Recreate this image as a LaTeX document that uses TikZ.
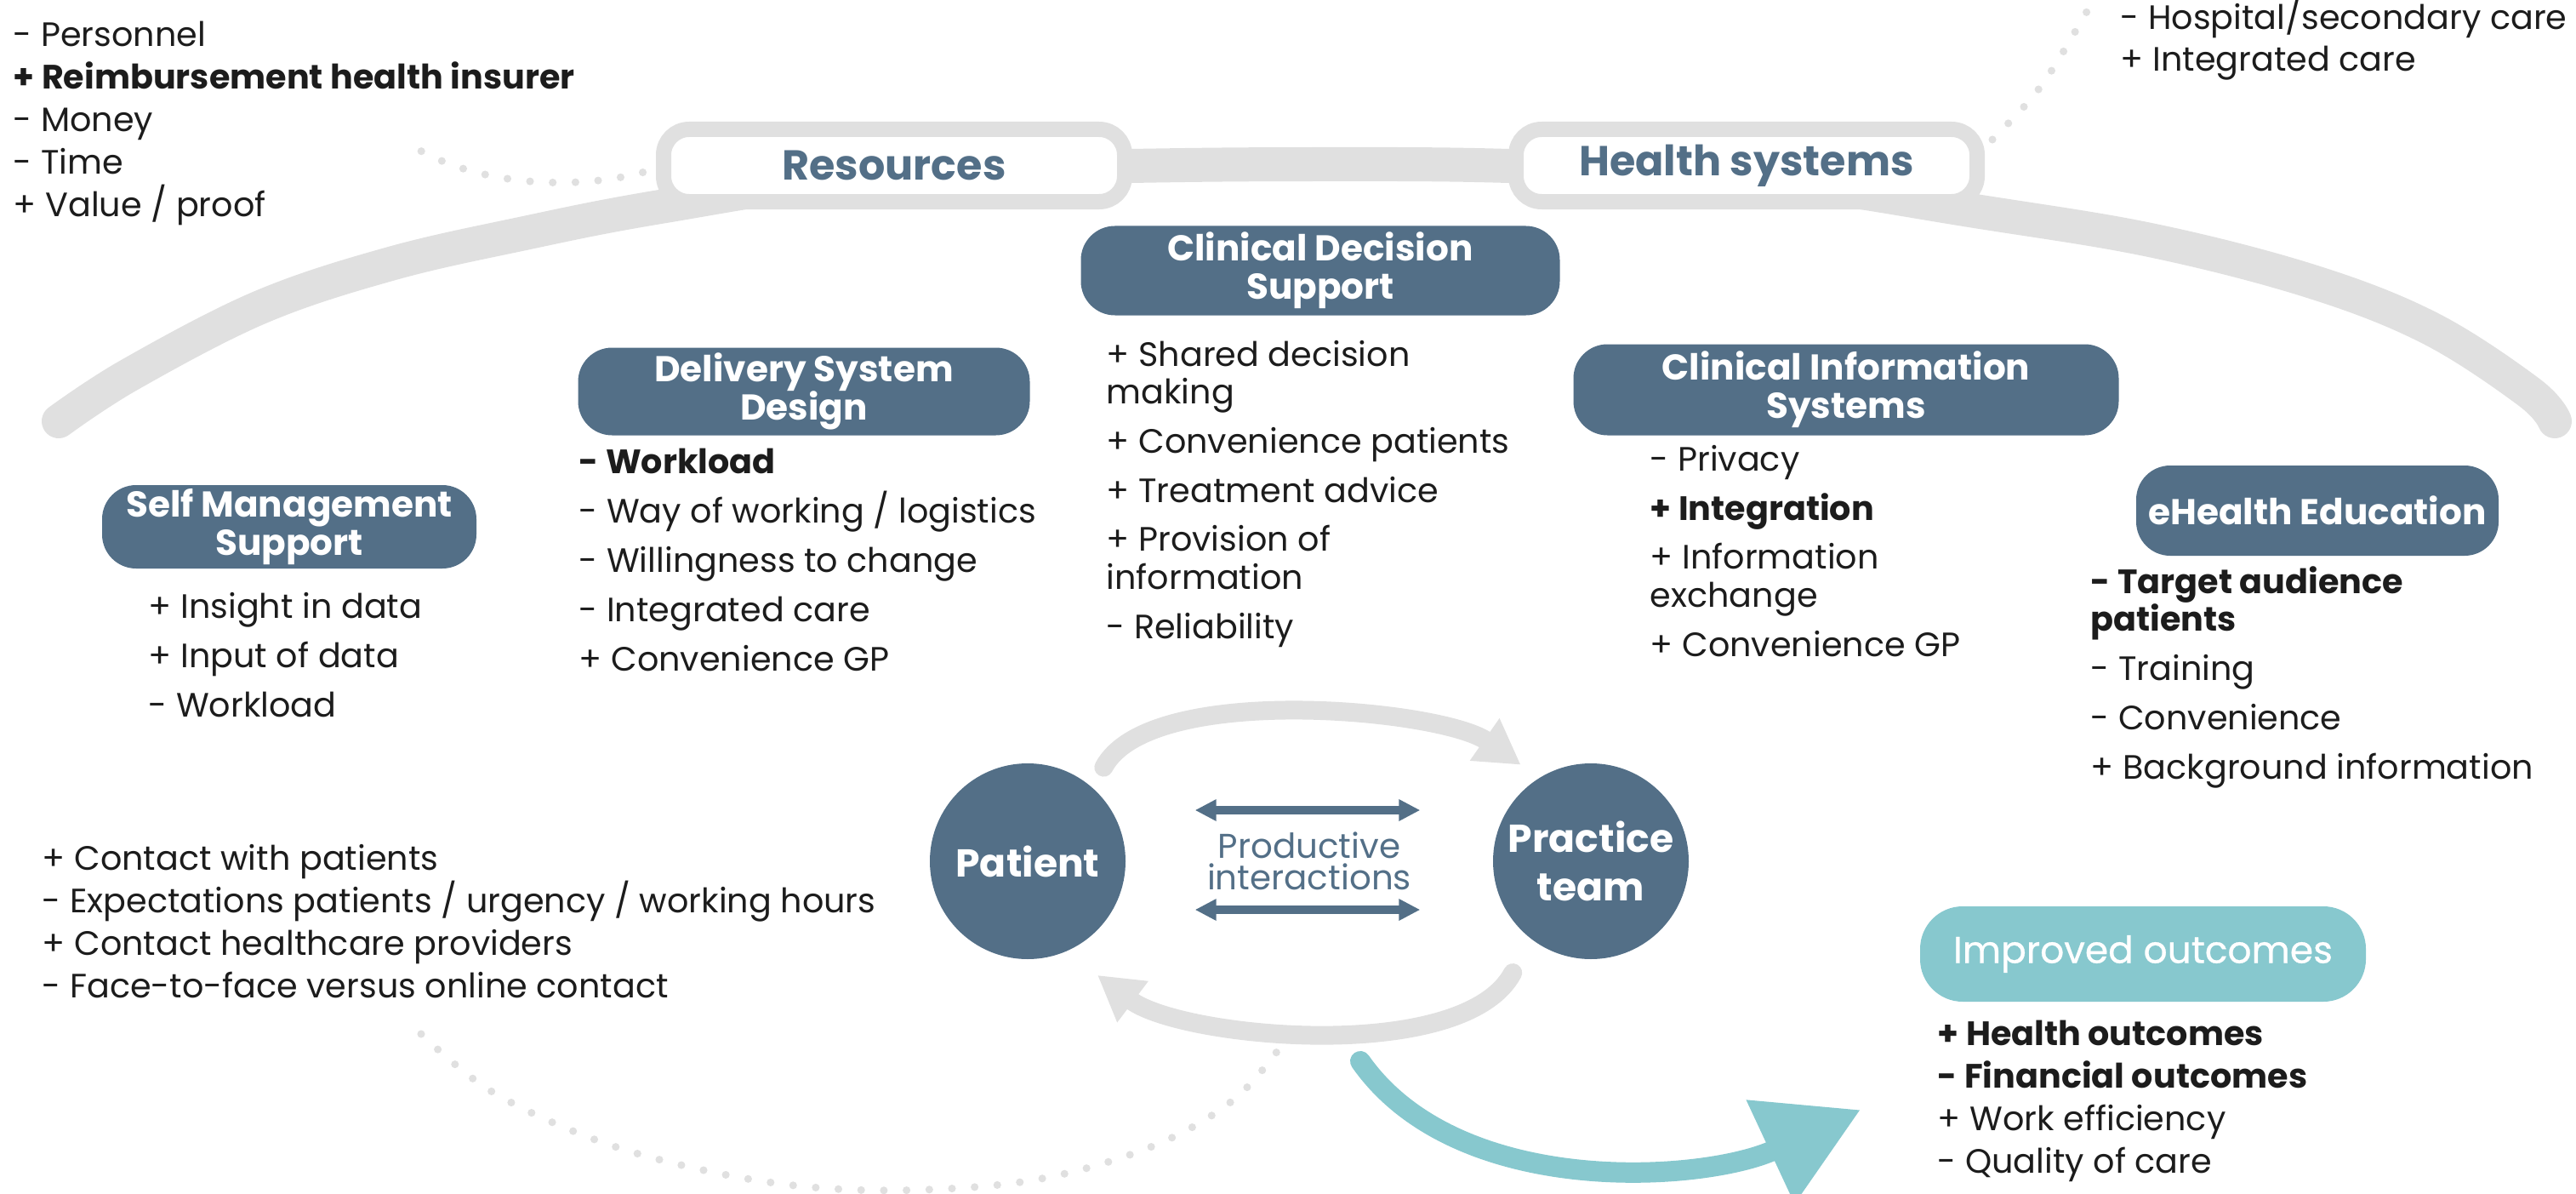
\documentclass[tikz,border=0pt]{standalone}
\usepackage{fontspec}
\setmainfont{Poppins}
\usetikzlibrary{arrows.meta,positioning,calc}
\definecolor{ccmblue}{RGB}{83,111,135}
\definecolor{ccmteal}{RGB}{135,200,206}
\definecolor{ccmgray}{RGB}{224,224,224}
\definecolor{ccmtext}{RGB}{28,28,28}
% keep list lines evenly spaced
\setlength{\lineskiplimit}{-100pt}
\tikzset{
  band/.style={line width=4mm, ccmgray, line cap=round, line join=round},
  dotln/.style={ccmgray, line width=2.6pt, line cap=round, dash pattern=on 0pt off 7.6pt},
  commbox/.style={fill=white, draw=ccmgray, line width=1.8mm, rounded corners=3mm, text=ccmblue,
    inner sep=0pt, minimum width=5.42cm, minimum height=8.5mm, font=\fontsize{14}{16}\selectfont\bfseries},
  element/.style={fill=ccmblue, text=white, rounded corners=4mm, align=center, inner sep=0pt,
    font=\fontsize{12}{12.8}\selectfont\bfseries},
  actor/.style={circle, fill=ccmblue, text=white, minimum size=2.3cm, inner sep=0pt, align=center,
    font=\fontsize{13}{16.4}\selectfont\bfseries},
  % lists are anchored at the baseline of their last line
  itemlist/.style={anchor=base west, align=left, inner sep=0pt, text=ccmtext,
    font=\fontsize{11.3}{12.6}\selectfont},
  cyclearr/.style={ccmgray, line width=2.2mm, line cap=round, -{Triangle[length=5.2mm, width=5.7mm]}},
  interarr/.style={ccmblue, line width=1mm, {Triangle[length=2.5mm, width=2.4mm]}-{Triangle[length=2.5mm, width=2.4mm]}},
  outarr/.style={ccmteal, line width=2.4mm, line cap=round, -{Triangle[length=11.7mm, width=12.8mm]}},
}

\begin{document}
\begin{tikzpicture}
  \useasboundingbox (0,0) rectangle (30.28,-14.03);

  % outer arc carrying the community level
  \draw[band] plot[smooth, tension=0.6] coordinates {(0.69,-4.95) (1.53,-4.40) (3.06,-3.61)
    (4.59,-3.10) (6.12,-2.75) (7.76,-2.43) (10.51,-2.02) (13.30,-1.95) (15.50,-1.93)
    (17.73,-1.95) (20.53,-2.08) (23.28,-2.49) (25.32,-2.83) (27.18,-3.31) (28.57,-3.86)
    (29.73,-4.61) (30.03,-4.95)};

  % dotted leaders, ends as named coordinates
  \coordinate (resdot) at (7.81,-1.945);
  \coordinate (resend) at (4.73,-1.64);
  \coordinate (hsdot) at (23.42,-1.64);
  \coordinate (hsend) at (24.58,-0.05);
  \draw[dotln] (resdot) .. controls (7.00,-2.25) and (5.60,-2.25) .. (resend);
  \draw[dotln] (hsdot) .. controls (24.00,-1.05) .. (hsend);

  % community level
  \node[commbox] (res) at (10.51,-1.945) {Resources};
  \node[commbox] (hs) at (20.53,-1.945) {Health systems};

  \node[itemlist] (reslist) at (0.15,-2.54) {- Personnel\\[0.55mm]
    \textbf{+ Reimbursement health insurer}\\[0.55mm]
    - Money\\[0.55mm]
    - Time\\[0.55mm]
    + Value / proof};
  \node[itemlist] (hslist) at (24.92,-0.84) {- Hospital/secondary care\\[0.55mm]
    + Integrated care};

  % health system elements
  \node[element, minimum width=5.63cm, minimum height=1.05cm] (cds) at (15.52,-3.18) {Clinical Decision\\Support};
  \node[element, minimum width=5.31cm, minimum height=1.03cm] (dsd) at (9.45,-4.60) {Delivery System\\Design};
  \node[element, minimum width=6.41cm, minimum height=1.07cm] (cis) at (21.70,-4.58) {Clinical Information\\Systems};
  \node[element, minimum width=4.40cm, minimum height=0.98cm] (sms) at (3.40,-6.19) {Self Management\\Support};
  \node[element, minimum width=4.26cm, minimum height=1.06cm] (ehe) at (27.24,-6.00) {eHealth Education};

  \node[itemlist] (smslist) at (1.74,-8.42) {+ Insight in data\\[1.35mm]
    + Input of data\\[1.35mm]
    - Workload};
  \node[itemlist] (dsdlist) at (6.80,-7.88) {\textbf{- Workload}\\[1.35mm]
    - Way of working / logistics\\[1.35mm]
    - Willingness to change\\[1.35mm]
    - Integrated care\\[1.35mm]
    + Convenience GP};
  \node[itemlist] (cdslist) at (13.00,-7.50) {+ Shared decision\\
    making\\[1.35mm]
    + Convenience patients\\[1.35mm]
    + Treatment advice\\[1.35mm]
    + Provision of\\
    information\\[1.35mm]
    - Reliability};
  \node[itemlist] (cislist) at (19.39,-7.71) {- Privacy\\[1.35mm]
    \textbf{+ Integration}\\[1.35mm]
    + Information\\
    exchange\\[1.35mm]
    + Convenience GP};
  \node[itemlist] (ehelist) at (24.57,-9.15) {\textbf{- Target audience}\\
    \textbf{patients}\\[1.35mm]
    - Training\\[1.35mm]
    - Convenience\\[1.35mm]
    + Background information};

  % practice level: the dotted leader runs under the cycle
  \draw[dotln] plot[smooth, tension=0.6] coordinates {(4.95,-12.15) (5.77,-12.82) (6.99,-13.39)
    (8.27,-13.75) (9.54,-13.95) (10.87,-13.98) (12.24,-13.85) (13.52,-13.48) (14.44,-12.97)
    (15.00,-12.37) (15.20,-12.00)};
  \node[itemlist] (ptlist) at (0.49,-11.72) {+ Contact with patients\\[0.55mm]
    - Expectations patients / urgency / working hours\\[0.55mm]
    + Contact healthcare providers\\[0.55mm]
    - Face-to-face versus online contact};

  \node[actor] (patient) at (12.08,-10.12) {Patient};
  \node[actor] (team) at (18.70,-10.12) {Practice\\team};

  \draw[cyclearr] ($(patient)+(51:1.42)$) .. controls +(62:1.14) and +(145:1.14) .. ($(team)+(126:1.40)$);
  \draw[cyclearr] ($(team)+(235:1.60)$) .. controls +(242:1.23) and +(-37:1.23) .. ($(patient)+(-58.5:1.57)$);

  \draw[interarr] ([xshift=8.1mm, yshift=6mm]patient.east) -- ([xshift=-8.5mm, yshift=6mm]team.west);
  \draw[interarr] ([xshift=8.1mm, yshift=-5.7mm]patient.east) -- ([xshift=-8.5mm, yshift=-5.7mm]team.west);
  \node[text=ccmblue, align=center, font=\fontsize{11.5}{10.6}\selectfont] (prod)
    at ($(patient)!0.5!(team)$) {Productive\\interactions};

  % outcomes
  \coordinate (outstart) at (15.99,-12.47);
  \coordinate (outtip) at (21.87,-13.04);
  \draw[outarr] (outstart) .. controls +(-55:2) and +(205:2) .. (outtip);

  \node[element, fill=ccmteal, rounded corners=5mm, minimum width=5.24cm, minimum height=1.12cm,
    font=\fontsize{12.5}{14}\selectfont\addfontfeature{FakeBold=0.6}] (imp) at (25.19,-11.21) {Improved outcomes};
  \node[itemlist] (implist) at (22.77,-13.78) {\textbf{+ Health outcomes}\\[0.55mm]
    \textbf{- Financial outcomes}\\[0.55mm]
    + Work efficiency\\[0.55mm]
    - Quality of care};
\end{tikzpicture}
\end{document}
